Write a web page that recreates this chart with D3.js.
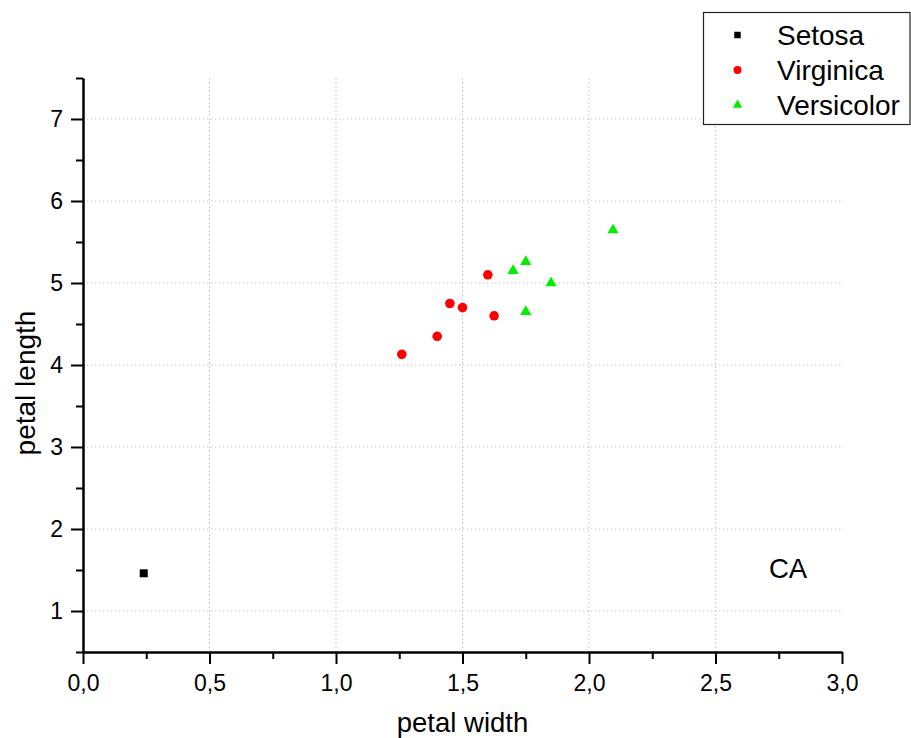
<!DOCTYPE html>
<html>
<head>
<meta charset="utf-8">
<script src="https://cdn.jsdelivr.net/npm/d3@7"></script>
<style>
  html, body { margin: 0; padding: 0; background: #fff; }
  svg { display: block; font-family: "Liberation Sans", Arial, sans-serif; }
</style>
</head>
<body>
<svg id="chart" width="911" height="738"></svg>
<script>
// Iris petal measurements by species (petal width, petal length)
const setosaWidth = [0.24];
const setosaLength = [1.46];
const virginicaWidth = [1.26, 1.40, 1.45, 1.50, 1.60, 1.625];
const virginicaLength = [4.13, 4.35, 4.75, 4.70, 5.10, 4.60];
const versicolorWidth = [1.70, 1.75, 1.85, 1.75, 2.095];
const versicolorLength = [5.15, 5.26, 5.00, 4.65, 5.645];

const seriesNames = ["Setosa", "Virginica", "Versicolor"];
const xTicks = [0, 0.5, 1.0, 1.5, 2.0, 2.5, 3.0];
const yTicks = [1, 2, 3, 4, 5, 6, 7];
const xDomain = [0, 3];
const yDomain = [0.5, 7.5];
const annotation = "CA";

(function draw() {
  const svg = d3.select("#chart");
  const plotLeft = 83, plotRight = 842, plotTop = 78, plotBottom = 652;

  const x = d3.scaleLinear().domain(xDomain).range([plotLeft, plotRight]);
  const y = d3.scaleLinear().domain(yDomain).range([plotBottom, plotTop]);

  const fmt = d => d3.format(".1f")(d).replace(".", ",");

  // dotted grid lines
  const grid = svg.append("g").attr("stroke", "#c4c4c4").attr("stroke-width", 1)
    .attr("stroke-dasharray", "1.5,2.5");
  grid.selectAll("line.gx").data(xTicks.filter(t => t > 0 && t < 3)).join("line")
    .attr("class", "gx")
    .attr("x1", d => x(d)).attr("x2", d => x(d))
    .attr("y1", plotBottom).attr("y2", plotTop);
  grid.selectAll("line.gy").data(yTicks).join("line")
    .attr("class", "gy")
    .attr("x1", plotLeft).attr("x2", plotRight)
    .attr("y1", d => y(d)).attr("y2", d => y(d));

  // axes
  const xAxis = d3.axisBottom(x).tickValues(xTicks).tickFormat(fmt).tickSizeInner(12).tickSizeOuter(0).tickPadding(11);
  const xMinor = d3.axisBottom(x).tickValues(d3.range(0.25, 3, 0.5)).tickFormat("").tickSizeInner(7).tickSizeOuter(0);
  const yAxis = d3.axisLeft(y).tickValues(yTicks).tickFormat(d3.format("d")).tickSizeInner(12).tickSizeOuter(0).tickPadding(8);
  const yMinor = d3.axisLeft(y).tickValues(d3.range(0.5, 7.6, 1)).tickFormat("").tickSizeInner(7).tickSizeOuter(0);

  function styleAxis(g) {
    g.selectAll("path, line").attr("stroke", "#000").attr("stroke-width", 2);
    g.selectAll("text").attr("fill", "#000").attr("font-size", 23)
      .attr("font-family", "'Liberation Sans', Arial, sans-serif");
  }
  svg.append("g").attr("transform", `translate(0,${plotBottom})`).call(xMinor).call(styleAxis);
  svg.append("g").attr("transform", `translate(${plotLeft},0)`).call(yMinor).call(styleAxis);
  svg.append("g").attr("transform", `translate(0,${plotBottom})`).call(xAxis).call(styleAxis);
  svg.append("g").attr("transform", `translate(${plotLeft},0)`).call(yAxis).call(styleAxis);

  // axis titles
  svg.append("text").attr("x", (plotLeft + plotRight) / 2).attr("y", 732)
    .attr("text-anchor", "middle").attr("font-size", 27.5).text("petal width");
  svg.append("text").attr("transform", "translate(35,383) rotate(-90)")
    .attr("text-anchor", "middle").attr("font-size", 28).text("petal length");

  // markers
  const sqSym = d3.symbol().type(d3.symbolSquare).size(64);
  const ciSym = d3.symbol().type(d3.symbolCircle).size(72);
  const trSym = d3.symbol().type(d3.symbolTriangle).size(54);

  svg.append("g").selectAll("path").data(d3.zip(setosaWidth, setosaLength)).join("path")
    .attr("d", sqSym).attr("fill", "#000")
    .attr("transform", d => `translate(${x(d[0])},${y(d[1])})`);
  svg.append("g").selectAll("path").data(d3.zip(virginicaWidth, virginicaLength)).join("path")
    .attr("d", ciSym).attr("fill", "#ff0000")
    .attr("transform", d => `translate(${x(d[0])},${y(d[1])})`);
  svg.append("g").selectAll("path").data(d3.zip(versicolorWidth, versicolorLength)).join("path")
    .attr("d", trSym).attr("fill", "#00ee00")
    .attr("transform", d => `translate(${x(d[0])},${y(d[1])})`);

  // annotation
  svg.append("text").attr("x", 769).attr("y", 578).attr("font-size", 27.5).text(annotation);

  // legend
  const legend = svg.append("g");
  legend.append("rect").attr("x", 703.5).attr("y", 12.5).attr("width", 206.5).attr("height", 112)
    .attr("fill", "#fff").attr("stroke", "#222").attr("stroke-width", 1.2);
  const legSyms = [
    d3.symbol().type(d3.symbolSquare).size(42),
    d3.symbol().type(d3.symbolCircle).size(50),
    d3.symbol().type(d3.symbolTriangle).size(38)
  ];
  const legColors = ["#000", "#ff0000", "#00ee00"];
  const legY = [35, 70, 105];
  seriesNames.forEach((name, i) => {
    legend.append("path").attr("d", legSyms[i]).attr("fill", legColors[i])
      .attr("transform", `translate(737.5,${legY[i]})`);
    legend.append("text").attr("x", 777).attr("y", legY[i] + 10).attr("font-size", 28).text(name);
  });
})();
</script>
</body>
</html>
